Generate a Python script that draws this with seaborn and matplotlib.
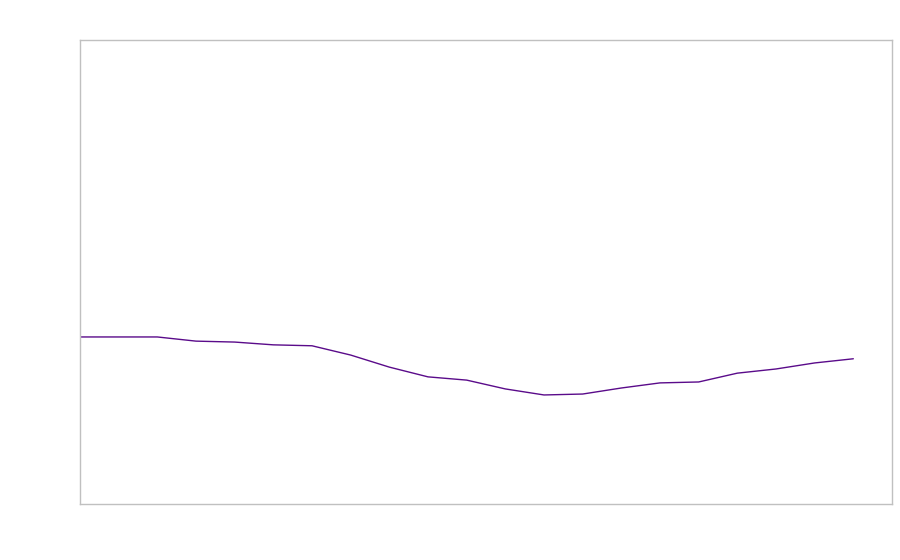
import numpy as np
import pandas as pd
from matplotlib import pyplot as plt
import seaborn as sns

sns.set_style('white')

# values (no visible labels, so an index scale)
steps = list(range(21))
values = [36.0, 36.0, 36.0, 35.1, 34.9, 34.3, 34.1, 32.1, 29.5, 27.4, 26.7,
          24.8, 23.5, 23.7, 25.0, 26.1, 26.3, 28.2, 29.1, 30.4, 31.3]

df = pd.DataFrame({'step': steps, 'value': values})

fig = plt.figure(figsize=(9, 5.6), dpi=100)
ax = fig.add_axes([80/900, 56/560, 812/900, 464/560])
sns.lineplot(data=df, x='step', y='value', ax=ax, color='#5a0b8a', linewidth=1)

ax.set_xlim(0, 21)
ax.set_ylim(0, 100)
ax.set_xticks([])
ax.set_yticks([])
ax.set_xlabel('')
ax.set_ylabel('')
for s in ax.spines.values():
    s.set_color('#c0c0c0')
    s.set_linewidth(1)

fig.savefig('out.png', dpi=100)
